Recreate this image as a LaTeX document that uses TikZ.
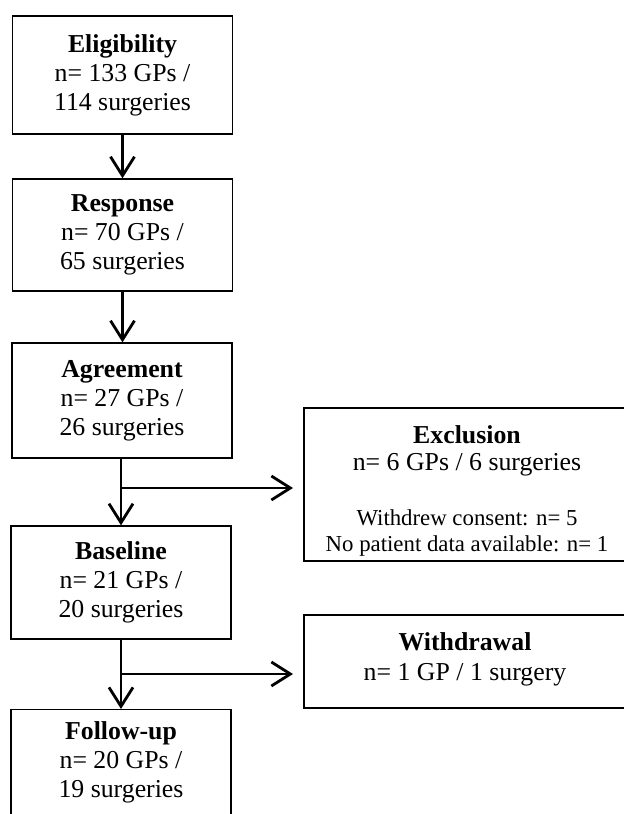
\documentclass[tikz,border=0pt]{standalone}
\usepackage{fontspec}
\setmainfont{Liberation Serif}
\usetikzlibrary{arrows.meta}
\begin{document}
\begin{tikzpicture}[x=1bp,y=-1bp,
  big/.style={font=\fontsize{25.8bp}{29bp}\selectfont},
  small/.style={font=\fontsize{22.8bp}{25.5bp}\selectfont},
  box/.style={draw, line width=1.4bp, minimum width=220bp, align=center, inner sep=0pt, big},
  sidebox/.style={draw, line width=1.4bp, minimum width=326bp, align=center, inner sep=0pt, big},
  txt/.style={anchor=base, inner sep=0pt},
  arr/.style={line width=2.8bp, -{Straight Barb[length=19bp,width=24bp]}}]
\clip (0,0) rectangle (624,814);
\fill[white] (0,0) rectangle (624,814);
% main column
\node[box, minimum height=118bp] (elig) at (122.5,75) {\textbf{Eligibility}\\n= 133 GPs /\\114 surgeries};
\node[box, minimum height=112bp] (resp) at (122.5,235) {\textbf{Response}\\n= 70 GPs /\\65 surgeries};
\node[box, minimum height=115bp] (agree) at (122,400.5) {\textbf{Agreement}\\n= 27 GPs /\\26 surgeries};
\node[box, minimum height=113bp] (base) at (121,582.5) {\textbf{Baseline}\\n= 21 GPs /\\20 surgeries};
\node[box, minimum height=106bp, anchor=north] (foll) at (121,709) {\textbf{Follow-up}\\n= 20 GPs /\\19 surgeries};
% side boxes
\node[sidebox, minimum height=153bp] (excl) at (467,484.5) {};
\node[txt, big] (exT) at (467,443) {\textbf{Exclusion}};
\node[txt, big] (exN) at (467,470) {n= 6 GPs / 6 surgeries};
\node[txt, small] (exW) at (467,525) {Withdrew consent: n= 5};
\node[txt, small] (exD) at (467,551) {No patient data available: n= 1};
\node[sidebox, minimum height=93bp] (wd) at (467,661.5) {};
\node[txt, big] (wdT) at (465,650) {\textbf{Withdrawal}};
\node[txt, big] (wdN) at (465,680) {n= 1 GP / 1 surgery};
% connectors
\draw[arr] (elig.south) -- (resp.north);
\draw[arr] (resp.south) -- (resp.south |- agree.north);
\draw[arr] (agree.south -| base.north) -- (base.north);
\coordinate (j1) at (121,488);
\coordinate (t1) at (293,488);
\draw[arr] (j1) -- (t1);
\draw[arr] (base.south) -- (foll.north);
\coordinate (j2) at (121,674);
\coordinate (t2) at (293,674);
\draw[arr] (j2) -- (t2);
\end{tikzpicture}
\end{document}
